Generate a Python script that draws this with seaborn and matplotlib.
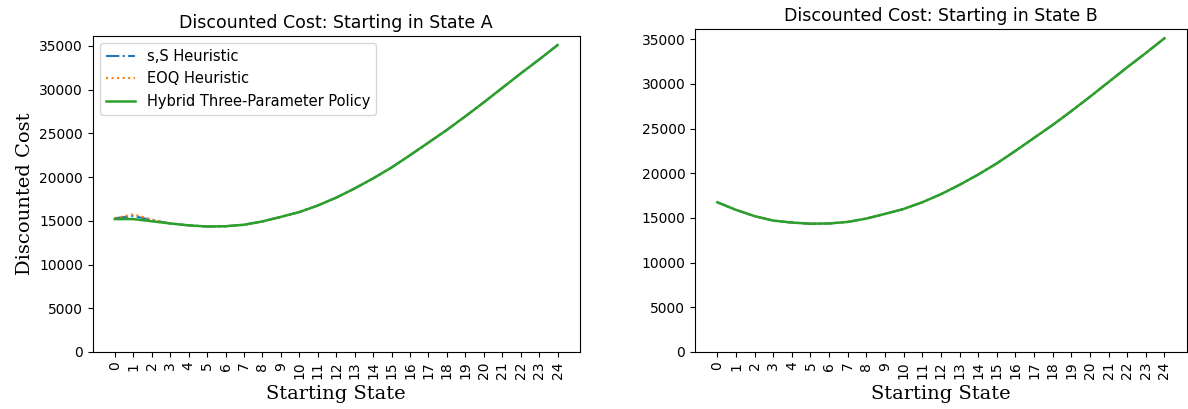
import numpy as np
import pandas as pd
import seaborn as sns
import matplotlib.pyplot as plt

# starting states
states = list(range(25))

# state A: the three policies only differ for the first few states
shared_a = [14700, 14480, 14350, 14380, 14550, 14930, 15450, 16000, 16750,
            17650, 18700, 19850, 21100, 22500, 23950, 25400, 26950, 28550,
            30200, 31850, 33450, 35100]
ss_a = [15300, 15550, 15100] + shared_a
eoq_a = [15300, 15750, 15150] + shared_a
hybrid_a = [15200, 15200, 14950] + shared_a

# state B: all three policies coincide
shared_b = [16750, 15900, 15200] + shared_a
ss_b = shared_b
eoq_b = shared_b
hybrid_b = shared_b

labels = ["s,S Heuristic", "EOQ Heuristic", "Hybrid Three-Parameter Policy"]
colors = ["#1f77b4", "#ff7f0e", "#2ca02c"]
styles = ["-.", ":", "-"]
widths = [1.5, 1.5, 1.8]

fig = plt.figure(figsize=(11.88, 4.09), dpi=100)
ax1 = fig.add_axes([0.078, 0.1394, 0.410, 0.7726])
ax2 = fig.add_axes([0.585, 0.1394, 0.414, 0.7897])

panels = [
    (ax1, [ss_a, eoq_a, hybrid_a], "Discounted Cost: Starting in State A"),
    (ax2, [ss_b, eoq_b, hybrid_b], "Discounted Cost: Starting in State B"),
]

for ax, series, title in panels:
    for vals, lab, c, ls, lw in zip(series, labels, colors, styles, widths):
        df = pd.DataFrame({"state": states, "cost": vals})
        sns.lineplot(data=df, x="state", y="cost", ax=ax, color=c,
                     linestyle=ls, linewidth=lw, label=lab)
    ax.set_ylim(bottom=0)
    ax.set_xticks(states)
    ax.set_xticklabels([str(s) for s in states], rotation=90)
    ax.tick_params(labelsize=10)
    ax.set_title(title, fontsize=12.5)
    ax.set_xlabel("Starting State", family="DejaVu Serif", fontsize=14)
    ax.set_ylabel("")

ax1.set_ylabel("Discounted Cost", family="DejaVu Serif", fontsize=14)
ax1.legend(loc="upper left", fontsize=10.5)
ax2.get_legend().remove()

fig.savefig("out.png", dpi=100)
